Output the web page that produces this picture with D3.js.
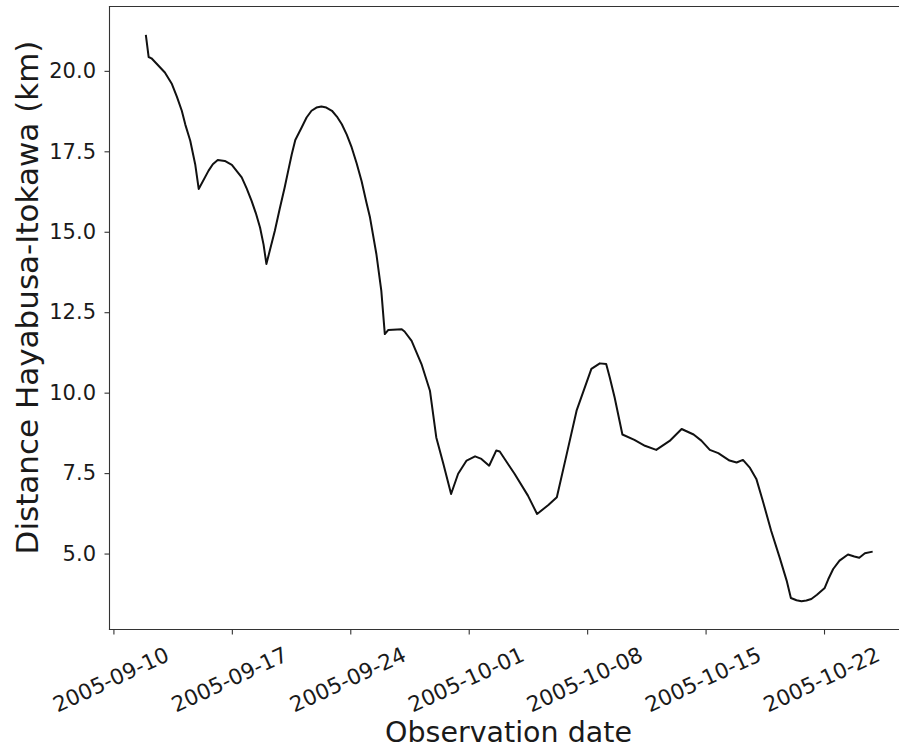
<!DOCTYPE html>
<html>
<head>
<meta charset="utf-8">
<script src="https://cdn.jsdelivr.net/npm/d3@7"></script>
<style>
  html, body { margin: 0; padding: 0; background: #fff; overflow: hidden; }
  svg { display: block; }
  text { font-family: "DejaVu Sans", sans-serif; fill: #1a1a1a; }
</style>
</head>
<body>
<svg id="chart" width="899" height="751"></svg>
<script>
// Observation times (UTC) and Hayabusa–Itokawa distance in km
const observationTimes = [
  "2005-09-11 22:00", "2005-09-12 02:00", "2005-09-12 06:00", "2005-09-13 01:00",
  "2005-09-13 11:00", "2005-09-13 18:00", "2005-09-14 01:00", "2005-09-14 06:00",
  "2005-09-14 13:00", "2005-09-14 20:00", "2005-09-15 01:00", "2005-09-15 15:00",
  "2005-09-15 21:00", "2005-09-16 04:00", "2005-09-16 14:00", "2005-09-17 00:00",
  "2005-09-17 14:00", "2005-09-17 21:00", "2005-09-18 04:00", "2005-09-18 10:00",
  "2005-09-18 16:00", "2005-09-18 21:00", "2005-09-19 01:00", "2005-09-19 13:00",
  "2005-09-19 20:00", "2005-09-20 03:00", "2005-09-20 08:00", "2005-09-20 13:00",
  "2005-09-20 18:00", "2005-09-21 03:00", "2005-09-21 10:00", "2005-09-21 17:00",
  "2005-09-22 00:00", "2005-09-22 07:00", "2005-09-22 14:00", "2005-09-22 22:00",
  "2005-09-23 05:00", "2005-09-23 12:00", "2005-09-23 19:00", "2005-09-24 02:00",
  "2005-09-24 09:00", "2005-09-24 16:00", "2005-09-24 23:00", "2005-09-25 04:00",
  "2005-09-25 13:00", "2005-09-25 20:00", "2005-09-26 01:00", "2005-09-26 06:00",
  "2005-09-27 01:00", "2005-09-27 05:00", "2005-09-27 15:00", "2005-09-28 05:00",
  "2005-09-28 17:00", "2005-09-29 02:00", "2005-09-29 12:00", "2005-09-29 23:00",
  "2005-09-30 09:00", "2005-09-30 21:00", "2005-10-01 09:00", "2005-10-01 18:00",
  "2005-10-02 05:00", "2005-10-02 15:00", "2005-10-02 20:00", "2005-10-03 17:00",
  "2005-10-04 12:00", "2005-10-05 01:00", "2005-10-05 17:00", "2005-10-06 05:00",
  "2005-10-06 19:00", "2005-10-07 09:00", "2005-10-08 06:00", "2005-10-08 18:00",
  "2005-10-09 03:00", "2005-10-09 08:00", "2005-10-09 15:00", "2005-10-10 02:00",
  "2005-10-10 19:00", "2005-10-11 10:00", "2005-10-12 02:00", "2005-10-12 21:00",
  "2005-10-13 14:00", "2005-10-14 07:00", "2005-10-14 18:00", "2005-10-15 06:00",
  "2005-10-15 18:00", "2005-10-16 10:00", "2005-10-16 20:00", "2005-10-17 05:00",
  "2005-10-17 15:00", "2005-10-18 00:00", "2005-10-18 09:00", "2005-10-18 21:00",
  "2005-10-19 09:00", "2005-10-19 19:00", "2005-10-20 01:00", "2005-10-20 09:00",
  "2005-10-20 16:00", "2005-10-20 23:00", "2005-10-21 06:00", "2005-10-21 14:00",
  "2005-10-22 01:00", "2005-10-22 06:00", "2005-10-22 13:00", "2005-10-22 22:00",
  "2005-10-23 10:00", "2005-10-23 19:00", "2005-10-24 02:00", "2005-10-24 10:00",
  "2005-10-24 21:00"
];
const distanceKm = [
  21.12, 20.43, 20.39, 19.95,
  19.59, 19.20, 18.76, 18.33,
  17.83, 17.10, 16.33, 16.90,
  17.10, 17.23, 17.20, 17.08,
  16.69, 16.35, 15.96, 15.58,
  15.13, 14.60, 14.00, 15.03,
  15.72, 16.38, 16.90, 17.41,
  17.85, 18.24, 18.55, 18.76,
  18.86, 18.89, 18.86, 18.76,
  18.58, 18.34, 18.02, 17.62,
  17.13, 16.58, 15.90, 15.44,
  14.31, 13.17, 11.82, 11.95,
  11.97, 11.90, 11.61, 10.89,
  10.06, 8.61, 7.79, 6.85,
  7.48, 7.89, 8.02, 7.94,
  7.73, 8.20, 8.17, 7.48,
  6.80, 6.23, 6.51, 6.75,
  8.09, 9.44, 10.74, 10.91,
  10.89, 10.48, 9.85, 8.70,
  8.53, 8.35, 8.22, 8.50,
  8.87, 8.70, 8.51, 8.22,
  8.12, 7.89, 7.83, 7.91,
  7.66, 7.32, 6.65, 5.71,
  4.88, 4.16, 3.62, 3.55,
  3.52, 3.54, 3.59, 3.72,
  3.93, 4.20, 4.52, 4.78,
  4.97, 4.91, 4.87, 5.01,
  5.06
];
const xTickDates = ["2005-09-10", "2005-09-17", "2005-09-24", "2005-10-01",
                    "2005-10-08", "2005-10-15", "2005-10-22"];
const yTickValues = [5.0, 7.5, 10.0, 12.5, 15.0, 17.5, 20.0];

const parseTime = d3.utcParse("%Y-%m-%d %H:%M");
const parseDay = d3.utcParse("%Y-%m-%d");
const formatDay = d3.utcFormat("%Y-%m-%d");

const points = observationTimes.map((t, i) => ({ t: parseTime(t), v: distanceKm[i] }));

const svg = d3.select("#chart");
const plot = { left: 109.5, right: 909, top: 6.5, bottom: 629.5 };

// Axis limits with a 5% pad on each side of the data range
function padded(extent) {
  const a = +extent[0], b = +extent[1], p = (b - a) * 0.05;
  return [a - p, b + p];
}
const xDom = padded(d3.extent(points, d => d.t));
const yDom = padded(d3.extent(points, d => d.v));

const x = d3.scaleUtc()
  .domain([new Date(xDom[0]), new Date(xDom[1])])
  .range([plot.left, plot.right]);
const y = d3.scaleLinear().domain(yDom).range([plot.bottom, plot.top]);

// Frame: top, left and bottom spines (the right spine lies past the canvas edge)
const spines = [
  [[plot.left, plot.top], [plot.right, plot.top]],
  [[plot.left, plot.top], [plot.left, plot.bottom]],
  [[plot.left, plot.bottom], [plot.right, plot.bottom]]
];
svg.append("g").selectAll("line").data(spines).join("line")
  .attr("x1", d => d[0][0]).attr("y1", d => d[0][1])
  .attr("x2", d => d[1][0]).attr("y2", d => d[1][1])
  .attr("stroke", "#333").attr("stroke-width", 1.1)
  .attr("stroke-linecap", "square");

const xTickFont = 21.5;
const yTickFont = 21;
const tickAngle = 25;

// X axis
const xAxis = svg.append("g")
  .attr("transform", `translate(0,${plot.bottom})`)
  .call(d3.axisBottom(x)
    .tickValues(xTickDates.map(parseDay))
    .tickFormat(formatDay)
    .tickSize(5).tickPadding(4));
xAxis.select(".domain").remove();
xAxis.selectAll(".tick line").attr("stroke", "#333").attr("stroke-width", 1.1);
// slanted date labels, centred just below each tick
xAxis.selectAll(".tick text")
  .attr("font-size", xTickFont)
  .attr("fill", "#1a1a1a")
  .attr("text-anchor", "middle")
  .attr("dy", null)
  .attr("y", 0)
  .attr("dominant-baseline", "central")
  .attr("transform", `translate(-3,50) rotate(${-tickAngle})`);

// Y axis
const yAxis = svg.append("g")
  .attr("transform", `translate(${plot.left},0)`)
  .call(d3.axisLeft(y)
    .tickValues(yTickValues)
    .tickFormat(d3.format(".1f"))
    .tickSize(5).tickPadding(8.5));
yAxis.select(".domain").remove();
yAxis.selectAll(".tick line").attr("stroke", "#333").attr("stroke-width", 1.1);
yAxis.selectAll(".tick text").attr("font-size", yTickFont).attr("fill", "#1a1a1a");

// Distance curve
const line = d3.line().x(d => x(d.t)).y(d => y(d.v));
svg.append("path")
  .datum(points)
  .attr("d", line)
  .attr("fill", "none")
  .attr("stroke", "#111")
  .attr("stroke-width", 2)
  .attr("stroke-linejoin", "round");

// Axis titles
svg.append("text")
  .attr("x", 508.5).attr("y", 741.5)
  .attr("text-anchor", "middle")
  .attr("font-size", 28.5)
  .text("Observation date");

svg.append("text")
  .attr("transform", `translate(38,297.5) rotate(-90)`)
  .attr("text-anchor", "middle")
  .attr("font-size", 31)
  .text("Distance Hayabusa-Itokawa (km)");
</script>
</body>
</html>
